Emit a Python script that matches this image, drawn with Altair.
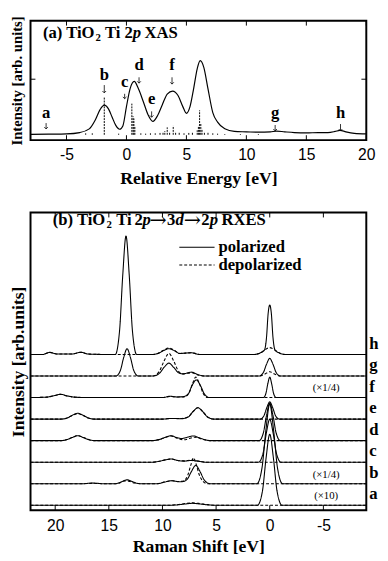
import altair as alt
import pandas as pd

SERIF = "Liberation Serif"
SANS = "Liberation Sans"

# ---------------- panel (a): XAS ----------------
xas_points = [(-8.0,0.005),(-6.5,0.008),(-5.0,0.012),(-3.9,0.03),(-3.1,0.08),(-2.6,0.2),(-2.2,0.34),
              (-1.85,0.40),(-1.5,0.35),(-1.2,0.24),(-0.9,0.13),(-0.57,0.075),(-0.3,0.12),(0.0,0.38),
              (0.3,0.62),(0.65,0.72),(1.0,0.62),(1.4,0.45),(1.8,0.27),(2.2,0.18),(2.6,0.26),(3.0,0.41),
              (3.4,0.55),(3.85,0.59),(4.3,0.53),(4.7,0.38),(5.0,0.29),(5.3,0.38),(5.6,0.62),(5.9,0.89),
              (6.15,1.0),(6.45,0.91),(6.8,0.62),(7.2,0.3),(7.6,0.17),(8.2,0.08),(9.0,0.045),(10.0,0.04),
              (11.0,0.035),(12.0,0.04),(12.5,0.05),(13.2,0.04),(14.0,0.03),(15.0,0.025),(16.0,0.03),
              (16.8,0.03),(17.4,0.045),(17.8,0.06),(18.3,0.04),(19.0,0.02),(20.0,0.012)]

stick_energy = [-3.4,-2.85,-1.85,-0.65,0.45,0.55,0.62,0.7,1.2,1.6,2.0,2.4,2.8,3.05,3.2,3.4,3.6,3.9,4.1,4.4,
                4.8,5.2,5.5,5.9,6.0,6.1,6.2,6.3,6.5,6.8,7.2,7.6,8.2,9.5,11.0]
stick_height = [0.02,0.02,0.51,0.015,0.42,0.25,0.22,0.12,0.02,0.015,0.02,0.02,0.025,0.03,0.05,0.1,0.04,0.12,
                0.04,0.03,0.02,0.025,0.03,0.06,0.12,0.33,0.15,0.08,0.04,0.03,0.02,0.015,0.01,0.01,0.01]

arrow_letters = ["a","b","c","d","e","f","g","h"]
arrow_energy = [-6.7,-1.85,-0.15,1.05,2.1,3.8,12.4,17.85]
arrow_label_base = [0.224,0.737,0.645,0.868,0.421,0.868,0.224,0.224]
arrow_top = [0.158,0.671,0.553,0.776,0.316,0.776,0.132,0.145]
arrow_tip = [0.079,0.566,0.487,0.697,0.237,0.684,0.053,0.053]

xas_ticks = [-5,0,5,10,15,20]
xas_ytick = [0.75]

# ---------------- panel (b): RXES ----------------
h_pol = [(22.3,0),(21.2,0),(20.5,0.1),(19.8,0.02),(18.5,0.02),(17.6,0.1),(16.9,0.02),(15.0,0),(14.4,0),(14.0,1.1),
         (13.7,3.7),(13.4,5.5),(13.1,3.7),(12.8,1.1),(12.4,0),(11.0,0),(10.4,0.05),(9.9,0.18),(9.4,0.27),(8.9,0.18),
         (8.4,0.05),(7.3,0.08),(6.5,0),(1.5,0),(0.9,0.07),(0.5,0.2),(0.3,0.8),(0.15,1.9),(0.0,2.3),(-0.15,1.9),
         (-0.3,0.8),(-0.5,0.2),(-0.9,0.07),(-1.5,0),(-9.0,0)]
h_dep = [(22.3,0),(21.2,0),(20.5,0.1),(19.8,0.02),(18.5,0.02),(17.6,0.1),(16.9,0.02),(15.0,0),(11.0,0),(10.4,0.06),
         (9.9,0.2),(9.4,0.3),(8.9,0.2),(8.4,0.05),(7.3,0.08),(6.5,0),(1.5,0),(0.9,0.07),(0.5,0.2),(0.0,0.32),
         (-0.5,0.2),(-0.9,0.07),(-1.5,0),(-9.0,0)]
g_pol = [(22.3,0),(14.35,0),(13.93,0.25),(13.62,0.85),(13.3,1.27),(12.98,0.85),(12.67,0.25),(12.25,0),(10.9,0),
         (10.3,0.12),(9.85,0.4),(9.4,0.6),(8.95,0.4),(8.5,0.15),(8.1,0.1),(7.3,0.18),(6.6,0.05),(6.0,0),(1.0,0),
         (0.6,0.16),(0.3,0.55),(0.0,0.82),(-0.3,0.55),(-0.6,0.16),(-1.0,0),(-9.0,0)]
g_dep = [(22.3,0),(10.9,0),(10.3,0.21),(9.85,0.7),(9.4,1.05),(8.95,0.7),(8.5,0.22),(8.1,0.1),(7.3,0.15),(6.6,0.04),
         (6.0,0),(1.0,0),(0.5,0.08),(0.0,0.2),(-0.5,0.08),(-1.0,0),(-9.0,0)]
f_pol = [(22.3,0),(20.8,0.02),(20.0,0.1),(19.5,0.15),(18.9,0.08),(18.2,0.02),(17.0,0),(10.0,0),(9.3,0.06),(8.7,0.03),
         (8.1,0.04),(7.6,0.17),(7.25,0.55),(6.85,0.82),(6.45,0.55),(6.1,0.17),(5.6,0),(0.6,0),(0.36,0.19),(0.18,0.64),
         (0.0,0.95),(-0.18,0.64),(-0.36,0.19),(-0.6,0),(-9.0,0)]
f_dep = [(22.3,0),(20.8,0.02),(20.0,0.1),(19.5,0.15),(18.9,0.08),(18.2,0.02),(17.0,0),(10.0,0),(9.3,0.05),(8.7,0.03),
         (8.0,0.03),(7.55,0.19),(7.2,0.64),(6.9,0.95),(6.55,0.64),(6.2,0.19),(5.8,0),(-9.0,0)]
e_pol = [(22.3,0),(19.5,0),(18.9,0.05),(18.4,0.18),(17.9,0.27),(17.4,0.18),(16.9,0.05),(16.3,0),(10.0,0),(9.2,0.03),
         (8.2,0.02),(7.6,0.1),(7.15,0.35),(6.7,0.53),(6.25,0.35),(5.8,0.1),(5.2,0),(0.9,0),(0.54,0.16),(0.27,0.54),
         (0.0,0.8),(-0.27,0.54),(-0.54,0.16),(-0.9,0),(-9.0,0)]
e_dep = [(22.3,0),(19.5,0),(18.9,0.05),(18.4,0.17),(17.9,0.25),(17.4,0.17),(16.9,0.05),(16.3,0),(10.0,0),(9.2,0.03),
         (8.2,0.03),(7.6,0.1),(7.15,0.35),(6.7,0.53),(6.25,0.35),(5.8,0.1),(5.2,0),(-9.0,0)]
d_pol = [(22.3,0),(19.5,0),(18.9,0.05),(18.4,0.15),(17.9,0.23),(17.4,0.15),(16.9,0.05),(16.3,0),(11.0,0),(10.3,0.05),
         (9.7,0.16),(9.2,0.23),(8.7,0.15),(8.2,0.1),(7.6,0.17),(7.1,0.22),(6.6,0.14),(6.0,0.04),(5.5,0),(1.0,0),
         (0.6,0.35),(0.3,1.17),(0.0,1.75),(-0.3,1.17),(-0.6,0.35),(-1.0,0),(-9.0,0)]
d_dep = [(22.3,0),(19.5,0),(18.9,0.05),(18.4,0.15),(17.9,0.23),(17.4,0.15),(16.9,0.05),(16.3,0),(11.0,0),(10.3,0.05),
         (9.7,0.16),(9.2,0.22),(8.6,0.1),(8.0,0.04),(7.5,0.1),(7.0,0.16),(6.5,0.1),(6.0,0.03),(5.5,0),(-9.0,0)]
c_pol = [(22.3,0),(11.0,0),(10.3,0.04),(9.7,0.11),(9.2,0.15),(8.6,0.08),(8.0,0.05),(7.3,0.08),(6.6,0.04),(6.0,0),
         (1.05,0),(0.63,0.4),(0.32,1.34),(0.0,2.0),(-0.32,1.34),(-0.63,0.4),(-1.05,0),(-9.0,0)]
c_dep = [(22.3,0),(11.0,0),(10.3,0.04),(9.7,0.11),(9.2,0.15),(8.6,0.08),(8.0,0.06),(7.3,0.1),(6.6,0.05),(6.0,0),(-9.0,0)]
b_pol = [(22.3,0),(17.5,0),(16.5,0.03),(15.5,0),(14.4,0),(14.0,0.05),(13.7,0.12),(13.3,0.18),(12.9,0.12),(12.5,0.04),
         (12.0,0),(10.5,0),(9.8,0.08),(9.1,0.14),(8.5,0.09),(8.1,0.1),(7.7,0.2),(7.3,0.57),(6.9,0.85),(6.5,0.57),
         (6.1,0.17),(5.55,0),(1.2,0),(0.72,0.74),(0.36,2.48),(0.0,3.7),(-0.36,2.48),(-0.72,0.74),(-1.2,0),(-9.0,0)]
b_dep = [(22.3,0),(17.5,0),(16.5,0.02),(15.5,0),(14.4,0),(14.0,0.04),(13.7,0.1),(13.4,0.14),(13.0,0.1),(12.6,0.03),
         (12.1,0),(10.5,0),(9.8,0.08),(9.1,0.14),(8.5,0.1),(8.0,0.14),(7.64,0.4),(7.37,0.85),(7.1,1.2),(6.83,0.85),
         (6.56,0.4),(6.2,0.1),(5.8,0),(-9.0,0)]
a_pol = [(22.3,0),(9.6,0),(8.6,0.02),(7.9,0.06),(7.2,0.09),(6.5,0.06),(5.8,0.02),(5.0,0),(1.15,0),(0.68,0.66),
         (0.34,2.2),(0.0,3.3),(-0.34,2.2),(-0.68,0.66),(-1.15,0),(-9.0,0)]
a_dep = [(22.3,0),(9.6,0),(8.6,0.03),(7.9,0.08),(7.2,0.11),(6.5,0.08),(5.8,0.03),(5.0,0),(-9.0,0)]

spectrum_letters = ["a","b","c","d","e","f","g","h"]
spectrum_offsets = [0,1,2,3,4,5,6,7]
spectra = {"a":(a_pol,a_dep),"b":(b_pol,b_dep),"c":(c_pol,c_dep),"d":(d_pol,d_dep),
           "e":(e_pol,e_dep),"f":(f_pol,f_dep),"g":(g_pol,g_dep),"h":(h_pol,h_dep)}
scale_notes = ["(\u00d71/4)","(\u00d71/4)","(\u00d710)"]
scale_note_at = ["f","b","a"]
rxes_ticks = [20,15,10,5,0,-5]

# ---------------- build tables ----------------
WA, HA = 343, 122
WB, HB = 343, 304

xas_df = pd.DataFrame(xas_points, columns=["E","I"])
stick_df = pd.DataFrame({"E":stick_energy,"h":stick_height,"base":[0.0]*len(stick_energy)})
arrow_df = pd.DataFrame({"L":arrow_letters,"E":arrow_energy,"lab":arrow_label_base,
                         "top":arrow_top,"tip":arrow_tip})
xtick_a = pd.DataFrame({"v":xas_ticks})
ytick_a = pd.DataFrame({"v":xas_ytick})

rows = []
for letter, off in zip(spectrum_letters, spectrum_offsets):
    pol, dep = spectra[letter]
    for x, y in pol:
        rows.append({"shift":x,"inten":y+off,"s":letter,"kind":"polarized"})
    for x, y in dep:
        rows.append({"shift":x,"inten":y+off,"s":letter,"kind":"depolarized"})
rx_df = pd.DataFrame(rows)
lab_df = pd.DataFrame({"L":spectrum_letters,"y":[o+0.5 for o in spectrum_offsets]})
off_of = dict(zip(spectrum_letters, spectrum_offsets))
note_df = pd.DataFrame({"t":scale_notes,"y":[off_of[l]+0.42 for l in scale_note_at]})
xtick_b = pd.DataFrame({"v":rxes_ticks})

xs_a = alt.Scale(domain=[-8,20], nice=False, zero=False)
ys_a = alt.Scale(domain=[-0.072,1.54], nice=False, zero=False)
xs_b = alt.Scale(domain=[-9.0,22.3], reverse=True, nice=False, zero=False)
ys_b = alt.Scale(domain=[-0.227,13.59], nice=False, zero=False)

HYPHEN = "replace(datum.label, '\u2212', '-')"
ax_a = alt.Axis(values=xas_ticks, ticks=False, domain=False, grid=False, labelFont=SANS,
                labelFontSize=16, labelColor="black", labelPadding=7, labelFlush=False,
                labelExpr=HYPHEN,
                title="Relative Energy [eV]", titleFont=SERIF, titleFontSize=18,
                titleFontWeight="bold", titleColor="black", titlePadding=7)
ay_a = alt.Axis(labels=False, ticks=False, domain=False, grid=False,
                title="Intensity [arb. units]", titleFont=SERIF, titleFontSize=15,
                titleFontWeight="bold", titleColor="black", titlePadding=6)
ax_b = alt.Axis(values=rxes_ticks, ticks=False, domain=False, grid=False, labelFont=SANS,
                labelFontSize=16, labelColor="black", labelPadding=8, labelFlush=False,
                labelExpr=HYPHEN,
                title="Raman Shift [eV]", titleFont=SERIF, titleFontSize=18,
                titleFontWeight="bold", titleColor="black", titlePadding=4)
ay_b = alt.Axis(labels=False, ticks=False, domain=False, grid=False,
                title="Intensity [arb.units]", titleFont=SERIF, titleFontSize=18,
                titleFontWeight="bold", titleColor="black", titlePadding=3)


def XA(f):
    return alt.X(f, scale=xs_a, axis=ax_a)


def YA(f):
    return alt.Y(f, scale=ys_a, axis=ay_a)


def XB(f):
    return alt.X(f, scale=xs_b, axis=ax_b)


def YB(f):
    return alt.Y(f, scale=ys_b, axis=ay_b)


def txt(text, x, y, size, style="normal", weight="bold", font=SERIF, align="left", baseline="alphabetic"):
    return alt.Chart(pd.DataFrame({"t":[text]})).mark_text(
        fontSize=size, fontStyle=style, fontWeight=weight, font=font, align=align,
        baseline=baseline, color="black"
    ).encode(x=alt.value(x), y=alt.value(y), text="t:N")

# ---------------- panel (a) ----------------
xas_line = alt.Chart(xas_df).mark_line(color="black", strokeWidth=1.2, interpolate="monotone").encode(
    x=XA("E:Q"), y=YA("I:Q"))
sticks = alt.Chart(stick_df).mark_rule(color="black", strokeWidth=1, strokeDash=[2,1]).encode(
    x=XA("E:Q"), y=YA("base:Q"), y2="h:Q")
arrow_lines = alt.Chart(arrow_df).mark_rule(color="black", strokeWidth=0.8).encode(
    x=XA("E:Q"), y=YA("top:Q"), y2="tip:Q")
arrow_heads = alt.Chart(arrow_df).mark_point(shape="M-1,-1L0,0L1,-1", size=14, filled=False,
                                             color="black", strokeWidth=0.8, opacity=1).encode(
    x=XA("E:Q"), y=YA("tip:Q"))
arrow_text = alt.Chart(arrow_df).mark_text(font=SERIF, fontWeight="bold", fontSize=17,
                                           baseline="alphabetic", color="black").encode(
    x=XA("E:Q"), y=YA("lab:Q"), text="L:N")
ta_bot = alt.Chart(xtick_a).mark_rule(color="black", strokeWidth=1).encode(
    x=XA("v:Q"), y=alt.value(HA), y2=alt.value(HA-5))
ta_top = alt.Chart(xtick_a).mark_rule(color="black", strokeWidth=1).encode(
    x=XA("v:Q"), y=alt.value(0), y2=alt.value(5))
ta_l = alt.Chart(ytick_a).mark_rule(color="black", strokeWidth=1).encode(
    y=YA("v:Q"), x=alt.value(0), x2=alt.value(5))
ta_r = alt.Chart(ytick_a).mark_rule(color="black", strokeWidth=1).encode(
    y=YA("v:Q"), x=alt.value(WA-5), x2=alt.value(WA))

title_a = [
    txt("(a) TiO", 12.7, 18, 17),
    txt("2", 66.3, 21, 11),
    txt("Ti", 76, 18, 17),
    txt("2", 96, 18, 17),
    txt("p", 104.5, 18, 17, style="italic"),
    txt("XAS", 116.5, 18, 17),
]

panel_a = alt.layer(xas_line, sticks, arrow_lines, arrow_heads, arrow_text,
                    ta_bot, ta_top, ta_l, ta_r, *title_a).properties(width=WA, height=HA)

# ---------------- panel (b) ----------------
rx_lines = alt.Chart(rx_df).mark_line(color="black", strokeWidth=1.1, interpolate="monotone").encode(
    x=XB("shift:Q"),
    y=YB("inten:Q"),
    detail="s:N",
    order=alt.Order("shift:Q", sort="descending"),
    strokeDash=alt.StrokeDash("kind:N",
        scale=alt.Scale(domain=["polarized","depolarized"], range=[[1,0],[3,2]]),
        legend=None),
)
right_labels = alt.Chart(lab_df).mark_text(font=SERIF, fontWeight="bold", fontSize=17, align="left",
                                           baseline="middle", color="black").encode(
    x=alt.value(WB+3), y=YB("y:Q"), text="L:N")
notes = alt.Chart(note_df).mark_text(font=SERIF, fontSize=11, align="center", baseline="middle",
                                     color="black").encode(
    x=alt.value(302), y=YB("y:Q"), text="t:N")
tb_bot = alt.Chart(xtick_b).mark_rule(color="black", strokeWidth=1).encode(
    x=XB("v:Q"), y=alt.value(HB), y2=alt.value(HB-5))
tb_top = alt.Chart(xtick_b).mark_rule(color="black", strokeWidth=1).encode(
    x=XB("v:Q"), y=alt.value(0), y2=alt.value(5))

legend_df = pd.DataFrame({"t":["x"]})
leg_solid = alt.Chart(legend_df).mark_rule(color="black", strokeWidth=1.1).encode(
    x=alt.value(152), x2=alt.value(188), y=alt.value(35.5))
leg_dash = alt.Chart(legend_df).mark_rule(color="black", strokeWidth=1.1, strokeDash=[3,2]).encode(
    x=alt.value(152), x2=alt.value(188), y=alt.value(53.5))
leg_t1 = txt("polarized", 192, 35.5, 17, baseline="middle")
leg_t2 = txt("depolarized", 192, 53.5, 17, baseline="middle")

title_b = [
    txt("(b) TiO", 22.7, 13, 17),
    txt("2", 77.5, 16, 11),
    txt("Ti", 87.5, 13, 17),
    txt("2", 106.2, 13, 17),
    txt("p", 114.5, 13, 17, style="italic"),
    txt("\u2192", 121.5, 14.5, 21, font="DejaVu Serif", weight="normal"),
    txt("3", 139.5, 13, 17),
    txt("d", 148, 13, 17, style="italic"),
    txt("\u2192", 156.5, 14.5, 21, font="DejaVu Serif", weight="normal"),
    txt("2", 174.5, 13, 17),
    txt("p", 183, 13, 17, style="italic"),
    txt("RXES", 195, 13, 17),
]

panel_b = alt.layer(rx_lines, right_labels, notes, tb_bot, tb_top, leg_solid, leg_dash, leg_t1, leg_t2,
                    *title_b).properties(width=WB, height=HB)

chart = alt.vconcat(panel_a, panel_b, spacing=21).properties(
    padding={"left": 0, "top": 0, "right": 0, "bottom": 0}
).configure_view(stroke="black", strokeWidth=2)

chart.save("out.html", embed_options={"renderer": "svg", "actions": False})
